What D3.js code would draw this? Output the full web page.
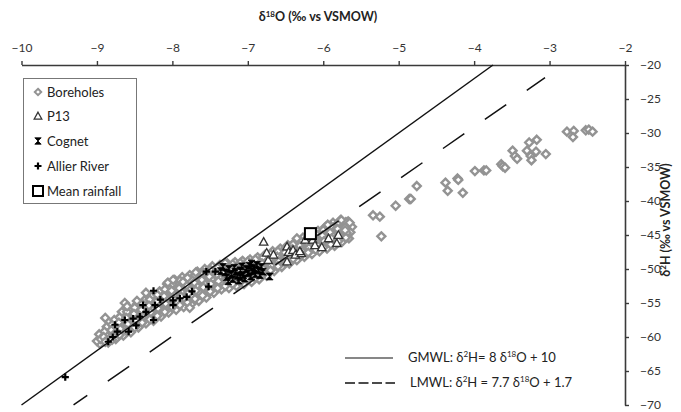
<!DOCTYPE html>
<html><head><meta charset="utf-8">
<script src="https://cdn.jsdelivr.net/npm/d3@7"></script>
<style>body{margin:0;background:#fff}svg{display:block}text{font-family:Lato,"Open Sans",sans-serif}</style>
</head><body><svg id="c" width="681" height="412"></svg>
<script>
const xTicks = [-10,-9,-8,-7,-6,-5,-4,-3,-2];
const yTicks = [-20,-25,-30,-35,-40,-45,-50,-55,-60,-65,-70];
const legendLabels = ["Boreholes","P13","Cognet","Allier River","Mean rainfall"];

const boreholes = [
[-8.97,-59.6],[-8.93,-60.3],[-8.96,-61.0],[-9.0,-60.6],[-8.95,-60.3],
[-8.87,-58.5],[-8.82,-59.2],[-8.88,-59.7],[-8.83,-60.2],[-8.85,-60.8],
[-8.77,-57.5],[-8.72,-58.3],[-8.78,-58.9],[-8.73,-59.6],[-8.75,-60.3],
[-8.67,-56.3],[-8.62,-57.4],[-8.68,-58.0],[-8.63,-58.9],[-8.65,-59.8],
[-8.57,-55.8],[-8.52,-56.9],[-8.58,-57.5],[-8.53,-58.4],[-8.55,-59.3],
[-8.47,-55.2],[-8.42,-56.2],[-8.48,-56.9],[-8.43,-57.8],[-8.45,-58.6],
[-8.37,-54.6],[-8.32,-55.6],[-8.38,-56.3],[-8.33,-57.2],[-8.35,-58.0],
[-8.27,-54.0],[-8.22,-55.1],[-8.28,-55.8],[-8.23,-56.7],[-8.25,-57.6],
[-8.17,-53.3],[-8.12,-54.4],[-8.18,-55.2],[-8.13,-56.1],[-8.15,-57.0],
[-8.07,-52.2],[-8.02,-53.5],[-8.08,-54.3],[-8.03,-55.3],[-8.05,-56.4],
[-7.97,-51.6],[-7.92,-52.9],[-7.98,-53.8],[-7.93,-54.9],[-7.95,-56.0],
[-7.87,-51.2],[-7.82,-52.5],[-7.88,-53.4],[-7.83,-54.5],[-7.85,-55.6],
[-7.77,-50.9],[-7.72,-52.2],[-7.78,-53.0],[-7.73,-54.1],[-7.75,-55.2],
[-7.67,-50.4],[-7.62,-51.7],[-7.68,-52.5],[-7.63,-53.6],[-7.65,-54.7],
[-7.57,-50.0],[-7.52,-51.3],[-7.58,-52.1],[-7.53,-53.1],[-7.55,-54.2],
[-7.47,-49.6],[-7.42,-50.8],[-7.48,-51.5],[-7.43,-52.5],[-7.45,-53.5],
[-7.37,-49.4],[-7.32,-50.5],[-7.38,-51.2],[-7.33,-52.1],[-7.35,-53.0],
[-7.27,-49.2],[-7.22,-50.3],[-7.28,-51.0],[-7.23,-51.9],[-7.25,-52.8],
[-7.17,-49.0],[-7.12,-50.0],[-7.18,-50.7],[-7.13,-51.6],[-7.15,-52.5],
[-7.07,-48.8],[-7.02,-49.8],[-7.08,-50.5],[-7.03,-51.4],[-7.05,-52.2],
[-6.97,-48.6],[-6.92,-49.6],[-6.98,-50.2],[-6.93,-51.1],[-6.95,-51.9],
[-6.87,-48.3],[-6.82,-49.3],[-6.88,-49.9],[-6.83,-50.7],[-6.85,-51.5],
[-6.77,-47.9],[-6.72,-48.8],[-6.78,-49.4],[-6.73,-50.2],[-6.75,-51.0],
[-6.67,-47.4],[-6.62,-48.3],[-6.68,-48.9],[-6.63,-49.6],[-6.65,-50.3],
[-6.57,-47.0],[-6.52,-47.8],[-6.58,-48.3],[-6.53,-49.0],[-6.55,-49.7],
[-6.47,-46.5],[-6.42,-47.3],[-6.48,-47.8],[-6.43,-48.5],[-6.45,-49.2],
[-6.37,-46.0],[-6.32,-46.8],[-6.38,-47.3],[-6.33,-48.0],[-6.35,-48.7],
[-6.27,-45.4],[-6.22,-46.2],[-6.28,-46.8],[-6.23,-47.5],[-6.25,-48.2],
[-6.17,-44.9],[-6.12,-45.8],[-6.18,-46.3],[-6.13,-47.1],[-6.15,-47.8],
[-6.07,-44.4],[-6.02,-45.3],[-6.08,-45.9],[-6.03,-46.6],[-6.05,-47.4],
[-5.97,-43.8],[-5.92,-44.8],[-5.98,-45.4],[-5.93,-46.2],[-5.95,-47.0],
[-5.87,-43.2],[-5.82,-44.2],[-5.88,-44.9],[-5.83,-45.8],[-5.85,-46.6],
[-5.77,-42.8],[-5.72,-43.8],[-5.78,-44.4],[-5.73,-45.2],[-5.75,-46.0],
[-5.67,-43.0],[-5.62,-43.8],[-5.64,-44.6],[-5.66,-45.5],
[-8.90,-59.2],[-8.91,-60.0],[-8.89,-60.7],
[-8.80,-58.2],[-8.81,-59.0],[-8.79,-59.8],[-8.80,-60.4],
[-8.70,-57.1],[-8.71,-57.9],[-8.69,-58.8],[-8.70,-59.7],
[-8.60,-56.3],[-8.61,-57.2],[-8.59,-58.1],[-8.60,-59.1],
[-8.50,-55.7],[-8.51,-56.6],[-8.49,-57.6],[-8.50,-58.6],
[-8.40,-55.1],[-8.41,-56.0],[-8.39,-57.0],[-8.40,-57.9],
[-8.30,-54.5],[-8.31,-55.4],[-8.29,-56.4],[-8.30,-57.4],
[-8.20,-53.8],[-8.21,-54.8],[-8.19,-55.8],[-8.20,-56.9],
[-8.10,-53.0],[-8.11,-54.0],[-8.09,-55.1],[-8.10,-56.3],
[-8.00,-52.2],[-8.01,-53.2],[-7.99,-54.4],[-8.00,-55.6],
[-7.90,-51.7],[-7.91,-52.8],[-7.89,-54.0],[-7.90,-55.3],
[-7.80,-51.3],[-7.81,-52.4],[-7.79,-53.6],[-7.80,-54.9],
[-7.70,-50.9],[-7.71,-52.0],[-7.69,-53.2],[-7.70,-54.4],
[-7.60,-50.5],[-7.61,-51.6],[-7.59,-52.7],[-7.60,-53.9],
[-7.50,-50.1],[-7.51,-51.1],[-7.49,-52.2],[-7.50,-53.3],
[-7.40,-49.8],[-7.41,-50.8],[-7.39,-51.8],[-7.40,-52.8],
[-7.30,-49.5],[-7.31,-50.6],[-7.29,-51.6],[-7.30,-52.5],
[-7.20,-49.3],[-7.21,-50.3],[-7.19,-51.3],[-7.20,-52.2],
[-7.10,-49.1],[-7.11,-50.1],[-7.09,-51.0],[-7.10,-51.9],
[-7.00,-48.9],[-7.01,-49.9],[-6.99,-50.8],[-7.00,-51.6],
[-6.90,-48.6],[-6.91,-49.6],[-6.89,-50.5],[-6.90,-51.3],
[-6.80,-48.3],[-6.81,-49.2],[-6.79,-50.0],[-6.80,-50.8],
[-6.70,-47.8],[-6.71,-48.7],[-6.69,-49.5],[-6.70,-50.2],
[-6.60,-47.4],[-6.61,-48.2],[-6.59,-48.9],[-6.60,-49.6],
[-6.50,-46.9],[-6.51,-47.6],[-6.49,-48.3],[-6.50,-49.0],
[-6.40,-46.4],[-6.41,-47.1],[-6.39,-47.8],[-6.40,-48.5],
[-6.30,-45.9],[-6.31,-46.6],[-6.29,-47.3],[-6.30,-48.0],
[-6.20,-45.3],[-6.21,-46.1],[-6.19,-46.9],[-6.20,-47.6],
[-6.10,-44.8],[-6.11,-45.6],[-6.09,-46.4],[-6.10,-47.2],
[-6.00,-44.3],[-6.01,-45.1],[-5.99,-45.9],[-6.00,-46.8],
[-5.90,-43.7],[-5.91,-44.6],[-5.89,-45.5],[-5.90,-46.4],
[-5.80,-43.2],[-5.81,-44.1],[-5.79,-45.0],[-5.80,-45.9],
[-5.70,-43.1],[-5.71,-43.9],[-5.69,-44.7],[-5.70,-45.4],
[-8.89,-57.2],[-8.63,-55.0],[-8.60,-55.5],[-8.47,-54.7],[-8.35,-53.5],[-8.06,-52.0],
[-7.99,-51.6],[-7.86,-51.9],[-7.69,-50.5],[-7.55,-50.4],[-7.30,-49.1],[-7.77,-55.7],
[-5.94,-43.5],[-5.76,-42.8],[-5.65,-43.2],[-5.71,-44.3],[-6.35,-45.5],
[-5.34,-42.1],[-5.25,-42.3],[-5.23,-45.2],[-5.04,-40.7],
[-4.86,-39.7],[-4.84,-39.7],[-4.76,-37.8],[-4.38,-37.3],[-4.35,-38.5],
[-4.22,-36.7],[-4.21,-36.9],[-4.15,-38.8],[-3.99,-35.6],[-3.87,-35.5],[-3.84,-35.5],
[-3.64,-34.6],[-3.62,-34.9],[-3.59,-35.1],[-3.49,-32.6],[-3.46,-33.4],[-3.43,-33.8],
[-3.30,-32.6],[-3.27,-31.4],[-3.25,-33.4],[-3.24,-34.0],[-3.17,-31.0],[-3.18,-32.75],[-3.05,-33.1],
[-2.77,-29.8],[-2.68,-29.7],[-2.69,-30.6],[-2.52,-29.6],[-2.48,-29.5],[-2.43,-29.8]
];
const p13 = [
[-6.79,-46.0],[-6.75,-47.6],[-6.73,-48.7],[-6.66,-47.9],[-6.48,-46.7],[-6.46,-47.5],
[-6.48,-48.9],[-6.40,-47.2],[-6.37,-47.9],[-6.29,-47.7],[-6.24,-45.7],[-6.14,-45.7],
[-6.11,-46.5],[-6.02,-46.8],[-5.93,-45.5],[-5.82,-46.2],[-5.80,-45.0],[-6.31,-47.4]
];
const cognet = [
[-7.33,-49.7],[-7.30,-50.5],[-7.28,-51.2],[-7.25,-50.0],[-7.22,-50.8],[-7.20,-51.5],
[-7.18,-49.8],[-7.16,-50.4],[-7.14,-51.0],[-7.12,-51.7],[-7.10,-50.2],[-7.08,-49.6],
[-7.06,-50.9],[-7.04,-51.4],[-7.02,-50.0],[-7.00,-50.6],[-6.98,-49.5],[-6.96,-51.1],
[-6.94,-50.3],[-6.92,-49.8],[-6.90,-50.8],[-6.88,-49.4],[-6.86,-50.2],[-6.84,-50.9],
[-6.82,-49.7],[-6.80,-50.4],[-7.26,-51.8],[-7.10,-51.2],[-6.95,-49.2],[-6.71,-51.1],[-7.36,-50.3]
];
const allier = [
[-9.42,-65.9],[-8.85,-60.7],[-8.79,-60.0],[-8.76,-58.2],[-8.73,-59.2],[-8.63,-57.5],
[-8.58,-59.2],[-8.52,-57.3],[-8.48,-58.3],[-8.43,-57.0],[-8.39,-55.3],[-8.35,-56.3],
[-8.25,-57.5],[-8.23,-55.3],[-8.25,-53.2],[-8.16,-54.5],[-7.99,-54.6],[-7.99,-55.3],
[-7.90,-54.3],[-7.81,-54.1],[-7.74,-53.3],[-7.52,-52.6],[-7.55,-50.4],[-7.43,-50.4]
];
const meanRainfall = [[-6.17,-44.8]];
const gmwl = {slope:8, intercept:10, from:-10, to:-3.75};
const lmwl = {slope:7.7, intercept:1.7, from:-9.31, to:-3.06};

const svg = d3.select("#c");
const x = d3.scaleLinear().domain([-10,-2]).range([21.5,625]);
const y = d3.scaleLinear().domain([-70,-20]).range([405,65]);

// axes
const gx = svg.append("g").attr("transform",`translate(0,${y(-20)})`)
  .call(d3.axisTop(x).tickValues(xTicks).tickSize(4).tickSizeOuter(0).tickPadding(9).tickFormat(d3.format("d")));
const gy = svg.append("g").attr("transform",`translate(${x(-2)},0)`)
  .call(d3.axisRight(y).tickValues(yTicks).tickSize(4).tickSizeOuter(0).tickPadding(11).tickFormat(d3.format("d")));
[gx,gy].forEach(g=>{
  g.select(".domain").attr("stroke","#3a3a3a").attr("stroke-width",1.6);
  g.selectAll(".tick line").attr("stroke","#3a3a3a").attr("stroke-width",1.4);
  g.selectAll(".tick text").attr("fill","#333").style("font-size","12px").style("font-family","Lato, sans-serif");
});

// titles
const t1 = svg.append("text").attr("x",318).attr("y",21).attr("text-anchor","middle")
  .style("font-size","12.5px").style("font-weight","bold").attr("fill","#222");
t1.append("tspan").text("δ");
t1.append("tspan").attr("dy",-4).style("font-size","8px").text("18");
t1.append("tspan").attr("dy",4).text("O  (‰ vs VSMOW)");

const t2 = svg.append("text").attr("transform","translate(670,220) rotate(-90)").attr("text-anchor","middle")
  .style("font-size","12.5px").style("font-weight","bold").attr("fill","#222");
t2.append("tspan").text("δ");
t2.append("tspan").attr("dy",-4).style("font-size","8px").text("2");
t2.append("tspan").attr("dy",4).text("H  (‰ vs VSMOW)");

// markers
const diamond = s => `M0,${-s}L${s},0L0,${s}L${-s},0Z`;
const tri = s => `M0,${-s}L${s},${s*0.8}L${-s},${s*0.8}Z`;
const hour = s => `M${-s},${-s}L${s},${-s}L${-s},${s}L${s},${s}Z`;
const plus = s => `M${-s},0H${s}M0,${-s}V${s}`;

svg.append("g").selectAll("path").data(boreholes).join("path")
  .attr("transform",d=>`translate(${x(d[0])},${y(d[1])})`).attr("d",diamond(4))
  .attr("fill","#fff").attr("stroke","#939393").attr("stroke-width",2.4);

// lines
function line(o){ return [[o.from,o.slope*o.from+o.intercept],[o.to,o.slope*o.to+o.intercept]]; }
const lg = d3.line().x(d=>x(d[0])).y(d=>y(d[1]));
svg.append("path").attr("d",lg(line(gmwl))).attr("stroke","#111").attr("stroke-width",1.5).attr("fill","none");
svg.append("path").attr("d",lg(line(lmwl))).attr("stroke","#111").attr("stroke-width",1.5).attr("fill","none")
  .attr("stroke-dasharray","26,25").attr("stroke-dashoffset",9.3);

svg.append("g").selectAll("path").data(p13).join("path")
  .attr("transform",d=>`translate(${x(d[0])},${y(d[1])})`).attr("d",tri(4.2))
  .attr("fill","#fff").attr("stroke","#333").attr("stroke-width",1.3);
svg.append("g").selectAll("path").data(cognet).join("path")
  .attr("transform",d=>`translate(${x(d[0])},${y(d[1])})`).attr("d",hour(3.4))
  .attr("fill","#000").attr("stroke","#000").attr("stroke-width",0.8);
svg.append("g").selectAll("path").data(allier).join("path")
  .attr("transform",d=>`translate(${x(d[0])},${y(d[1])})`).attr("d",plus(3.6))
  .attr("stroke","#000").attr("stroke-width",2.2).attr("fill","none");
svg.append("g").selectAll("rect").data(meanRainfall).join("rect")
  .attr("x",d=>x(d[0])-5.5).attr("y",d=>y(d[1])-5.5).attr("width",11).attr("height",11)
  .attr("fill","#fff").attr("stroke","#000").attr("stroke-width",2);

// legend box
const leg = svg.append("g");
leg.append("rect").attr("x",23.5).attr("y",78.5).attr("width",113).attr("height",125)
  .attr("fill","#fff").attr("stroke","#777").attr("stroke-width",1);
const ly = [92,116,141,166,191];
legendLabels.forEach((lab,i)=>{
  const g = leg.append("g").attr("transform",`translate(38,${ly[i]})`);
  if(i===0) g.append("path").attr("d",diamond(3.2)).attr("fill","#fff").attr("stroke","#939393").attr("stroke-width",2);
  if(i===1) g.append("path").attr("d",tri(3.8)).attr("fill","#fff").attr("stroke","#333").attr("stroke-width",1.3);
  if(i===2) g.append("path").attr("d",hour(3.2)).attr("fill","#000").attr("stroke","#000").attr("stroke-width",0.8);
  if(i===3) g.append("path").attr("d",plus(3.5)).attr("stroke","#000").attr("stroke-width",2.2);
  if(i===4) g.append("rect").attr("x",-5).attr("y",-5).attr("width",10).attr("height",10).attr("fill","#fff").attr("stroke","#000").attr("stroke-width",2);
  g.append("text").attr("x",9).attr("y",4.5).style("font-size","13px").attr("fill","#222").text(lab);
});

// line legend
const ll = svg.append("g");
ll.append("line").attr("x1",345).attr("x2",393).attr("y1",358).attr("y2",358).attr("stroke","#111").attr("stroke-width",1.2);
ll.append("line").attr("x1",345).attr("x2",395).attr("y1",383).attr("y2",383).attr("stroke","#111").attr("stroke-width",1.5).attr("stroke-dasharray","10,3.5");
const e1 = ll.append("text").attr("x",408).attr("y",362).style("font-size","13px").attr("fill","#222");
e1.append("tspan").text("GMWL: δ");
e1.append("tspan").attr("dy",-5).style("font-size","8px").text("2");
e1.append("tspan").attr("dy",5).text("H= 8 δ");
e1.append("tspan").attr("dy",-5).style("font-size","8px").text("18");
e1.append("tspan").attr("dy",5).text("O  + 10");
const e2 = ll.append("text").attr("x",410).attr("y",387).style("font-size","13px").attr("fill","#222");
e2.append("tspan").text("LMWL: δ");
e2.append("tspan").attr("dy",-5).style("font-size","8px").text("2");
e2.append("tspan").attr("dy",5).text("H = 7.7 δ");
e2.append("tspan").attr("dy",-5).style("font-size","8px").text("18");
e2.append("tspan").attr("dy",5).text("O + 1.7");
</script></body></html>
